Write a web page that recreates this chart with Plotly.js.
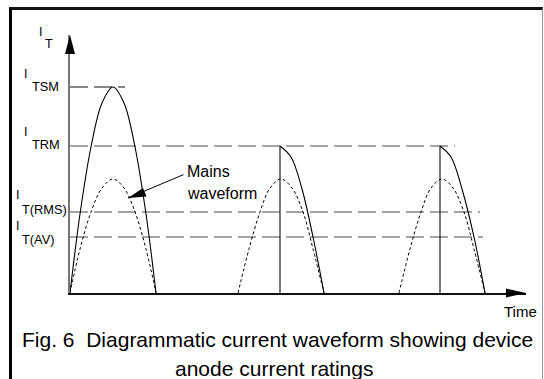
<!DOCTYPE html>
<html><head><meta charset="utf-8">
<script src="https://cdn.plot.ly/plotly-3.0.1.min.js"></script>
<style>
html,body{margin:0;padding:0;background:#fff;overflow:hidden}
#wrap{position:relative;width:544px;height:379px}
#chart{width:544px;height:379px}
#frame{position:absolute;left:9px;top:7px;width:530px;height:400px;border-left:3px solid #000;border-top:3px solid #111;border-right:1.5px solid #999;pointer-events:none}
</style></head>
<body><div id="wrap"><div id="chart"></div><div id="frame"></div></div>
<script>
// Time axis and current axis in arbitrary (diagrammatic) units
const xMax = 456;
const yMax = 258;

// Rating levels
const levelSubs   = ['TSM', 'TRM', 'T(RMS)', 'T(AV)'];
const levelValues = [206, 147, 81, 56];
const levelEnds   = [55, 385, 410, 413];

// Mains waveform half-cycles (dotted)
const mainsY  = [0, 44, 81, 105, 114, 105, 81, 44, 0];
const mains1X = [0, 10, 21, 32, 43, 54, 65, 76, 86];
const mains2X = [168, 179, 190, 200, 211, 222, 233, 243, 254];
const mains3X = [329, 340, 351, 361, 372, 383, 394, 404, 415];

// Surge pulse (solid, first half-cycle)
const surgeX = [0, 10, 21, 32, 43, 54, 65, 76, 86];
const surgeY = [0, 79, 146, 190, 206, 190, 146, 79, 0];

// Repetitive pulses after firing (solid)
const fireX   = [210, 370];
const decayY  = [147, 136, 104, 56, 0];
const decay2X = [210, 221, 232, 243, 254];
const decay3X = [370, 381, 392, 404, 415];

const FONT = '"Liberation Sans", Arial, Helvetica, sans-serif';
const traces = [];

// dashed level lines
levelValues.forEach((v, i) => {
  traces.push({
    x: [0, levelEnds[i]], y: [v, v], mode: 'lines', hoverinfo: 'skip',
    line: {color: i === 0 ? '#111' : '#4a4a4a', width: 1.2, dash: '18px,6px'}
  });
});

// mains (dotted)
[mains1X, mains2X, mains3X].forEach(mx => {
  traces.push({
    x: mx, y: mainsY, mode: 'lines', hoverinfo: 'skip',
    line: {color: '#000', width: 1, dash: '3px,2.5px', shape: 'spline'}
  });
});

// surge pulse
traces.push({x: surgeX, y: surgeY, mode: 'lines', hoverinfo: 'skip',
  line: {color: '#000', width: 1.1, shape: 'spline'}});

// firing verticals
fireX.forEach(fx => {
  traces.push({x: [fx, fx], y: [0, decayY[0]], mode: 'lines', hoverinfo: 'skip',
    line: {color: '#222', width: 1.2}});
});
// decays
[decay2X, decay3X].forEach(dx => {
  traces.push({x: dx, y: decayY, mode: 'lines', hoverinfo: 'skip',
    line: {color: '#000', width: 1.1, shape: 'spline'}});
});

// labels are positioned in paper units (fractions of the axis ranges)
const annotations = [];
function txt(text, x, y, size, xanchor) {
  annotations.push({
    text: text, x: x / xMax, y: y / yMax, xref: 'paper', yref: 'paper', showarrow: false,
    xanchor: xanchor || 'left', yanchor: 'middle',
    font: {family: FONT, size: size, color: '#000'}
  });
}
// I_T on axis
txt('I', -33, 261, 12.5);
txt('T', -27, 249, 12.5);
// level labels
const iLabelX   = [-48, -48, -56, -56];
const iLabelY   = [219, 161.5, 98.5, 67];
const subLabelX = [-40, -40, -50.5, -50.5];
const subLabelY = [207, 149, 84, 53.5];
levelSubs.forEach((s, i) => {
  txt('I', iLabelX[i], iLabelY[i], 12.5);
  txt(s, subLabelX[i], subLabelY[i], 12.8);
});
// Mains waveform label
txt('Mains', 115, 122, 16);
txt('waveform', 115, 100, 16);
// pointer line
annotations.push({x: 58, y: 95, ax: 115, ay: 119, axref: 'x', ayref: 'y',
  xref: 'x', yref: 'y', text: '', showarrow: true, arrowhead: 0,
  arrowwidth: 1, arrowcolor: '#000'});
// Time label
txt('Time', 469, -18, 15, 'right');
// caption
txt('Fig. 6  Diagrammatic current waveform showing device', 207, -47, 21, 'center');
txt('anode current ratings', 203.5, -75, 21, 'center');

const shapes = [
  // y-axis arrowhead
  {type: 'path', xref: 'paper', yref: 'paper', xsizemode: 'pixel', ysizemode: 'pixel',
   xanchor: 0, yanchor: 1, path: 'M0,0 L-5,-19 L5,-19 Z',
   fillcolor: '#000', line: {width: 0}, layer: 'above'},
  // x-axis arrowhead
  {type: 'path', xref: 'paper', yref: 'paper', xsizemode: 'pixel', ysizemode: 'pixel',
   xanchor: 1, yanchor: 0, path: 'M0,0 L-20,4.5 L-20,-4.5 Z',
   fillcolor: '#000', line: {width: 0}, layer: 'above'},
  // mains pointer arrowhead
  {type: 'path', xref: 'paper', yref: 'paper', xsizemode: 'pixel', ysizemode: 'pixel',
   xanchor: 58 / xMax, yanchor: 95 / yMax, path: 'M0,0 L15,10 L18.5,1.5 Z',
   fillcolor: '#000', line: {width: 0}, layer: 'above'}
];

const layout = {
  width: 544, height: 379,
  margin: {l: 70, r: 18, t: 35, b: 86},
  paper_bgcolor: '#fff', plot_bgcolor: '#fff',
  showlegend: false,
  xaxis: {range: [0, xMax], showline: true, linecolor: '#111', linewidth: 1.5,
    showgrid: false, zeroline: false, showticklabels: false, ticks: '', fixedrange: true},
  yaxis: {range: [0, yMax], showline: true, linecolor: '#777', linewidth: 2,
    showgrid: false, zeroline: false, showticklabels: false, ticks: '', fixedrange: true},
  annotations: annotations,
  shapes: shapes,
  font: {family: FONT}
};

Plotly.newPlot('chart', traces, layout, {staticPlot: true, displayModeBar: false});
</script>
</body></html>
